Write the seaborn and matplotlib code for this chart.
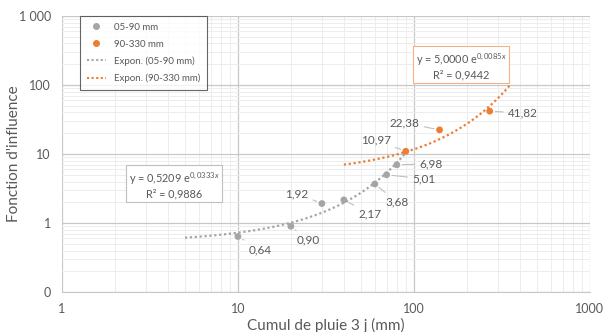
import numpy as np
import pandas as pd
import seaborn as sns
import matplotlib.pyplot as plt
from matplotlib.lines import Line2D
from matplotlib.ticker import FixedLocator, LogLocator, NullFormatter

# data
pluie_a = [10, 20, 30, 40, 60, 70, 80]
infl_a = [0.64, 0.90, 1.92, 2.17, 3.68, 5.01, 6.98]
pluie_b = [90, 140, 270]
infl_b = [10.97, 22.38, 41.82]
lab_a = ["0,64", "0,90", "1,92", "2,17", "3,68", "5,01", "6,98"]
lab_b = ["10,97", "22,38", "41,82"]

# exponential trendlines as shown on the chart
coef_a = (0.5209, 0.0333)
coef_b = (5.0000, 0.0085)
range_a = (5, 90)
range_b = (40, 355)

GREY = "#A5A5A5"
ORANGE = "#ED7D31"
TXT = "#595959"

sns.set_style("white")
plt.rcParams["font.family"] = ["Lato", "DejaVu Sans"]
plt.rcParams["mathtext.fontset"] = "custom"
plt.rcParams["mathtext.rm"] = "Lato"
plt.rcParams["mathtext.it"] = "Lato:italic"

fig = plt.figure(figsize=(6.08, 3.32), dpi=100)
ax = fig.add_axes([0.102, 0.12, 0.868, 0.832])

xa = np.geomspace(*range_a, 80)
xb = np.geomspace(*range_b, 80)
trend = pd.concat([
    pd.DataFrame({"x": xa, "y": coef_a[0] * np.exp(coef_a[1] * xa), "s": "a"}),
    pd.DataFrame({"x": xb, "y": coef_b[0] * np.exp(coef_b[1] * xb), "s": "b"}),
])
sns.lineplot(data=trend, x="x", y="y", hue="s", palette={"a": GREY, "b": ORANGE},
             linestyle=(0, (1, 1.2)), linewidth=1.6, legend=False, ax=ax, zorder=3)

pts = pd.DataFrame({"x": pluie_a + pluie_b, "y": infl_a + infl_b,
                    "s": ["a"] * len(pluie_a) + ["b"] * len(pluie_b)})
sns.scatterplot(data=pts, x="x", y="y", hue="s", palette={"a": GREY, "b": ORANGE},
                s=24, edgecolor="none", legend=False, ax=ax, zorder=4)

ax.set_xscale("log")
ax.set_yscale("log")
ax.set_xlim(1, 1000)
ax.set_ylim(0.1, 1000)

ax.xaxis.set_major_locator(FixedLocator([1, 10, 100, 1000]))
ax.set_xticklabels(["1", "10", "100", "1000"])
ax.yaxis.set_major_locator(FixedLocator([0.1, 1, 10, 100, 1000]))
ax.set_yticklabels(["0", "1", "10", "100", "1 000"])
ax.xaxis.set_minor_locator(LogLocator(base=10, subs=np.arange(2, 10)))
ax.yaxis.set_minor_locator(LogLocator(base=10, subs=np.arange(2, 10)))
ax.xaxis.set_minor_formatter(NullFormatter())
ax.yaxis.set_minor_formatter(NullFormatter())
ax.grid(which="major", color="#C8C8C8", linewidth=0.9)
ax.grid(which="minor", color="#EDEDED", linewidth=0.7)
ax.set_axisbelow(True)
ax.tick_params(which="both", length=0, labelsize=9, colors=TXT, pad=8)
for side in ["top", "right", "left"]:
    ax.spines[side].set_visible(False)
ax.spines["bottom"].set_color("#C8C8C8")

ax.set_xlabel("Cumul de pluie 3 j (mm)", fontsize=11, color=TXT, labelpad=2)
ax.set_ylabel("Fonction d'influence", fontsize=11, color=TXT)
ax.yaxis.set_label_coords(-0.078, 0.5)

# data labels with leader lines (offsets in pixels)
offs_a = [(22, -13), (17, -14), (-25, 10), (26, -14), (22, -18), (37, -4), (34, 1)]
offs_b = [(-30, 11), (-35, 7), (33, -2)]
for x, y, t, o in zip(pluie_a + pluie_b, infl_a + infl_b, lab_a + lab_b, offs_a + offs_b):
    ax.annotate(t, (x, y), xytext=o, textcoords="offset pixels", fontsize=8.5,
                color=TXT, ha="center", va="center",
                arrowprops=dict(arrowstyle="-", color="#BFBFBF", lw=0.8,
                                shrinkA=1, shrinkB=4))

# trendline equation boxes
ax.text(0.212, 0.388, "y = 0,5209 e$^{0,0333x}$\nR² = 0,9886", transform=ax.transAxes,
        fontsize=7.8, color=TXT, ha="center", va="center", linespacing=1.15,
        bbox=dict(boxstyle="square,pad=0.25", fc="white", ec="#BFBFBF", lw=0.8))
ax.text(0.756, 0.819, "y = 5,0000 e$^{0,0085x}$\nR² = 0,9442", transform=ax.transAxes,
        fontsize=7.8, color=TXT, ha="center", va="center", linespacing=1.15,
        bbox=dict(boxstyle="square,pad=0.25", fc="white", ec="#F4B183", lw=0.8))

handles = [
    Line2D([], [], marker="o", ls="none", color=GREY, markersize=4),
    Line2D([], [], marker="o", ls="none", color=ORANGE, markersize=4),
    Line2D([], [], ls=(0, (1, 1.2)), color=GREY, lw=1.5),
    Line2D([], [], ls=(0, (1, 1.2)), color=ORANGE, lw=1.5),
]
leg = ax.legend(handles, ["05-90 mm", "90-330 mm", "Expon. (05-90 mm)", "Expon. (90-330 mm)"],
                loc="upper left", bbox_to_anchor=(0.034, 1.0), borderaxespad=0,
                fontsize=7, frameon=True, fancybox=False, handlelength=2.0,
                labelspacing=0.8, borderpad=0.7, labelcolor=TXT)
leg.get_frame().set_edgecolor("#404040")
leg.get_frame().set_linewidth(0.8)

fig.savefig("out.png", dpi=100)
